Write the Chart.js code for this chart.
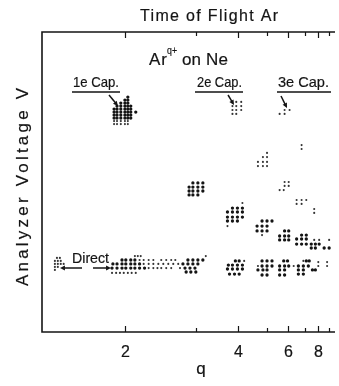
<!DOCTYPE html>
<html><head><meta charset="utf-8">
<script src="https://cdn.jsdelivr.net/npm/chart.js@4/dist/chart.umd.min.js"></script>
<style>html,body{margin:0;padding:0;background:#fff}canvas{display:block}</style>
</head><body>
<canvas id="c" width="339" height="386"></canvas>
<script>
// ---- axis: time of flight (arbitrary units 0..10), t = A - B/sqrt(q)
const TOF_A = 16.03, TOF_B = 18.67;
const qTicks  = [2, 3, 4, 5, 6, 7, 8, 9];
const qLabels = ['2', '', '4', '', '6', '', '8', ''];

// ---- dot clusters: rows of [analyzer voltage, [time-of-flight values]]
// one-electron capture (strong dots)
const cap1e = [
  [7.83, [2.93]],
  [7.73, [2.83, 2.93]],
  [7.63, [2.69, 2.83, 2.93]],
  [7.53, [2.56, 2.69, 2.83, 2.93, 3.03]],
  [7.43, [2.46, 2.56, 2.69, 2.83, 2.93, 3.03]],
  [7.33, [2.46, 2.56, 2.69, 2.83, 2.93, 3.03, 3.20]],
  [7.23, [2.46, 2.56, 2.69, 2.83, 2.93, 3.03]],
  [7.13, [2.46, 2.56, 2.69, 2.83, 2.93, 3.03]]
];
const cap1eQ3 = [
  [4.97, [5.15, 5.32, 5.49]],
  [4.83, [5.02, 5.15, 5.32, 5.49]],
  [4.70, [5.02, 5.15, 5.32, 5.49]],
  [4.57, [5.02, 5.15, 5.32]]
];
const cap1eQ4 = [
  [4.13, [6.50, 6.67, 6.84]],
  [4.00, [6.33, 6.50, 6.67, 6.84]],
  [3.83, [6.33, 6.50, 6.67, 6.84]],
  [3.70, [6.33, 6.50, 6.67]]
];
const cap1eQ5 = [
  [3.70, [7.51, 7.68, 7.85]],
  [3.53, [7.34, 7.51, 7.68]],
  [3.37, [7.34, 7.51, 7.68]]
];
const cap1eQ6 = [
  [3.37, [8.28, 8.42]],
  [3.20, [8.11, 8.28, 8.42]],
  [3.07, [8.11, 8.28, 8.42]]
];
const cap1eQ7 = [
  [3.23, [8.86, 9.02]],
  [3.10, [8.69, 8.86, 9.02]],
  [2.93, [8.69, 8.86, 9.02]]
];
const cap1eQ8 = [
  [2.93, [9.19, 9.33, 9.46]],
  [2.80, [9.19, 9.33, 9.63, 9.80]]
];
// direct (unscattered) ions, strong dots
const directQ2 = [
  [2.40, [2.73, 2.86, 3.03, 3.17]],
  [2.27, [2.42, 2.56, 2.73, 2.86, 3.03, 3.17, 3.33]],
  [2.13, [2.39, 2.56, 2.73, 2.86, 3.03, 3.17, 3.33, 3.50]]
];
const directQ3 = [
  [2.40, [4.98, 5.15, 5.32, 5.49]],
  [2.27, [4.81, 4.98, 5.15, 5.32]],
  [2.13, [4.88, 5.05, 5.22]],
  [2.00, [4.92, 5.08, 5.25]]
];
const directQ4 = [
  [2.37, [6.60, 6.73]],
  [2.23, [6.36, 6.50, 6.67, 6.84]],
  [2.10, [6.33, 6.50, 6.67, 6.84]],
  [1.93, [6.40, 6.57, 6.73]]
];
const directQ5 = [
  [2.37, [7.51, 7.68, 7.85]],
  [2.20, [7.51, 7.68, 7.85]],
  [2.07, [7.37, 7.54, 7.68]],
  [1.90, [7.51, 7.68]]
];
const directQ6 = [
  [2.37, [8.25, 8.38]],
  [2.20, [8.11, 8.28, 8.42]],
  [2.07, [8.11, 8.28]],
  [1.90, [8.11, 8.28]]
];
const directQ7 = [
  [2.37, [9.02, 9.12]],
  [2.20, [8.75, 8.92, 9.09]],
  [2.07, [8.75, 8.92, 9.23, 9.33]],
  [1.93, [8.75, 8.92]]
];
// faint dots
const faint1e = [
  [7.03, [2.46, 2.56, 2.69, 2.83, 2.93]],
  [6.93, [2.46, 2.56, 2.69, 2.83, 2.93]],
  [4.30, [6.84]], [3.53, [6.33]], [3.23, [7.51]],
  [3.07, [9.29, 9.46, 9.80]]
];
const cap2e = [
  [7.67, [6.63, 6.80]],
  [7.53, [6.50, 6.63, 6.80]],
  [7.40, [6.50, 6.63, 6.80]],
  [7.27, [6.50, 6.63]],
  [5.97, [7.68]],
  [5.83, [7.54, 7.68]],
  [5.67, [7.37, 7.54, 7.68]],
  [5.53, [7.37, 7.54, 7.68]],
  [5.00, [8.28, 8.42]],
  [4.87, [8.28, 8.42]],
  [4.73, [8.11, 8.25]],
  [4.40, [8.69, 8.86, 9.02]],
  [4.27, [8.69, 8.86]],
  [4.10, [9.29]],
  [3.97, [9.29]]
];
const cap3e = [
  [7.40, [8.28, 8.45]],
  [7.27, [8.11, 8.28]],
  [6.23, [8.86]],
  [6.10, [8.86]]
];
const directFaint = [
  [2.47, [0.51, 0.61]],
  [2.37, [0.44, 0.54, 0.64]],
  [2.27, [0.44, 0.54, 0.64, 0.74]],
  [2.17, [0.44, 0.54]],
  [2.07, [0.44]],
  [2.53, [3.17, 3.27, 3.37, 5.59]],
  [2.40, [3.33, 3.47, 3.64, 3.80, 4.07, 4.24, 4.41, 4.55]],
  [2.27, [3.47, 3.64, 3.80, 3.97, 4.14, 4.31, 4.48, 4.65]],
  [2.13, [3.64, 3.80, 3.94, 4.07, 4.24, 4.41, 4.71]],
  [1.97, [2.39, 2.53, 2.66, 2.79, 2.93, 3.06, 3.20]],
  [2.37, [6.90, 8.92]],
  [2.20, [7.37, 8.59]],
  [2.33, [9.43, 9.73]],
  [2.20, [9.43, 9.73]]
];

// ---------------------------------------------------------------
function tofOf(q) { return TOF_A - TOF_B / Math.sqrt(q); }
function expand(rows) {
  const pts = [];
  rows.forEach(([v, ts]) => ts.forEach(t => pts.push({ x: t, y: v })));
  return pts;
}
const strongSets = [cap1e, cap1eQ3, cap1eQ4, cap1eQ5, cap1eQ6, cap1eQ7, cap1eQ8,
  directQ2, directQ3, directQ4, directQ5, directQ6, directQ7];
const faintSets = [faint1e, cap2e, cap3e, directFaint];
const strongPts = [].concat(...strongSets.map(expand));
const faintPts = [].concat(...faintSets.map(expand));

const FONT = '"Liberation Sans", Arial, sans-serif';
const INK = '#141414';
const TEXT_STROKE = 0.2;

function drawFit(ctx, text, x, y, width, size) {
  ctx.font = size + 'px ' + FONT;
  ctx.letterSpacing = '0px';
  ctx.lineWidth = TEXT_STROKE;
  const w = ctx.measureText(text).width;
  if (w > width) {
    ctx.fillText(text, x, y, width);
    ctx.strokeText(text, x, y, width);
  } else {
    const n = Math.max(1, text.length - 1);
    ctx.letterSpacing = ((width - w) / n).toFixed(2) + 'px';
    ctx.fillText(text, x, y);
    ctx.strokeText(text, x, y);
    ctx.letterSpacing = '0px';
  }
}
function arrow(ctx, x1, y1, x2, y2, head) {
  const ang = Math.atan2(y2 - y1, x2 - x1);
  const h = head || 5;
  ctx.beginPath();
  ctx.moveTo(x1, y1);
  ctx.lineTo(x2 - Math.cos(ang) * h * 0.8, y2 - Math.sin(ang) * h * 0.8);
  ctx.stroke();
  ctx.beginPath();
  ctx.moveTo(x2, y2);
  ctx.lineTo(x2 - h * Math.cos(ang - 0.45), y2 - h * Math.sin(ang - 0.45));
  ctx.lineTo(x2 - h * Math.cos(ang + 0.45), y2 - h * Math.sin(ang + 0.45));
  ctx.closePath();
  ctx.fill();
}

const framePlugin = {
  id: 'frame',
  afterDraw(chart) {
    const { ctx, chartArea: a } = chart;
    const xs = chart.scales.x;
    ctx.save();
    ctx.strokeStyle = INK; ctx.fillStyle = INK;
    ctx.lineWidth = 1.6;
    ctx.beginPath();
    ctx.moveTo(a.right, a.top); ctx.lineTo(a.left, a.top);
    ctx.lineTo(a.left, a.bottom); ctx.lineTo(a.right, a.bottom);
    ctx.stroke();
    // inward q ticks, top and bottom
    ctx.textAlign = 'center'; ctx.textBaseline = 'alphabetic';
    qTicks.forEach((q, i) => {
      const px = Math.round(xs.getPixelForValue(tofOf(q))) + 0.5;
      const len = qLabels[i] ? 6 : 4;
      ctx.lineWidth = 1.2;
      ctx.beginPath();
      ctx.moveTo(px, a.bottom); ctx.lineTo(px, a.bottom - len);
      ctx.moveTo(px, a.top); ctx.lineTo(px, a.top + len);
      ctx.stroke();
      if (qLabels[i]) {
        ctx.font = '16px ' + FONT; ctx.lineWidth = TEXT_STROKE;
        ctx.fillText(qLabels[i], px, a.bottom + 25);
        ctx.strokeText(qLabels[i], px, a.bottom + 25);
      }
    });
    ctx.font = '17px ' + FONT; ctx.lineWidth = TEXT_STROKE;
    ctx.fillText('q', 201, 374); ctx.strokeText('q', 201, 374);
    // title
    ctx.textAlign = 'left';
    drawFit(ctx, 'Time of Flight Ar', 140, 21, 138, 16);
    // Ar^q+ on Ne
    drawFit(ctx, 'Ar', 149, 65, 18, 17);
    drawFit(ctx, 'q+', 167, 54, 10, 11);
    drawFit(ctx, 'on Ne', 182, 65, 46, 17);
    // capture labels
    drawFit(ctx, '1e Cap.', 73, 87, 46, 15);
    drawFit(ctx, '2e Cap.', 197, 87, 45, 15);
    drawFit(ctx, '3e Cap.', 278, 87, 51, 15);
    ctx.lineWidth = 1.6;
    ctx.beginPath();
    ctx.moveTo(72, 92); ctx.lineTo(120, 92);
    ctx.moveTo(195, 92); ctx.lineTo(243, 92);
    ctx.moveTo(277, 92); ctx.lineTo(331, 92);
    ctx.stroke();
    ctx.lineWidth = 1.5;
    arrow(ctx, 109, 95, 118, 106, 5.5);
    arrow(ctx, 228, 95, 234, 105, 5.5);
    arrow(ctx, 281, 96, 287, 108, 5.5);
    // Direct
    drawFit(ctx, 'Direct', 72, 263, 37, 15);
    ctx.lineWidth = 1.5;
    arrow(ctx, 82, 268, 60, 268, 5.5);
    arrow(ctx, 93, 268, 111, 268, 5.5);
    // y title
    ctx.save();
    ctx.translate(28, 187);
    ctx.rotate(-Math.PI / 2);
    ctx.textAlign = 'left';
    drawFit(ctx, 'Analyzer Voltage V', -99, 0, 198, 17);
    ctx.restore();
    ctx.restore();
  }
};

new Chart(document.getElementById('c'), {
  type: 'scatter',
  data: {
    datasets: [
      { data: strongPts, pointRadius: 1.65, pointBackgroundColor: INK, pointBorderWidth: 0, pointStyle: 'circle' },
      { data: faintPts, pointRadius: 1.05, pointBackgroundColor: '#333', pointBorderWidth: 0, pointStyle: 'circle' }
    ]
  },
  options: {
    responsive: false,
    animation: false,
    devicePixelRatio: 1,
    layout: { padding: { left: 42, top: 32, right: 0, bottom: 54 } },
    plugins: { legend: { display: false }, tooltip: { enabled: false }, title: { display: false } },
    scales: {
      x: { type: 'linear', min: 0, max: 10, display: false },
      y: { type: 'linear', min: 0, max: 10, display: false }
    }
  },
  plugins: [framePlugin]
});
</script>
</body></html>
